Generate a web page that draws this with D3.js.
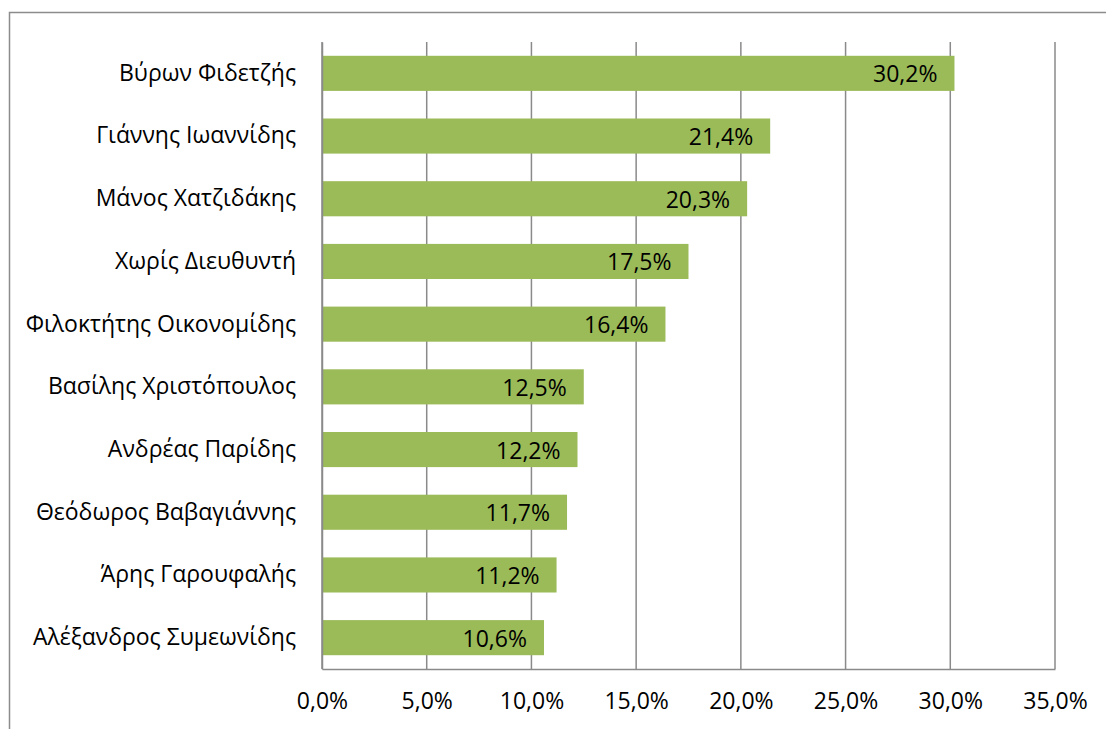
<!DOCTYPE html>
<html>
<head>
<meta charset="utf-8">
<script src="https://cdn.jsdelivr.net/npm/d3@7"></script>
<style>
  html, body { margin: 0; padding: 0; background: #fff; }
  svg { display: block; }
  text { font-family: "Open Sans", "Noto Sans", sans-serif; fill: #000; }
</style>
</head>
<body>
<svg id="chart" width="1106" height="729"></svg>
<script>
// Categories (top to bottom) and their shares in percent
const names = [
  "Βύρων Φιδετζής",
  "Γιάννης Ιωαννίδης",
  "Μάνος Χατζιδάκης",
  "Χωρίς Διευθυντή",
  "Φιλοκτήτης Οικονομίδης",
  "Βασίλης Χριστόπουλος",
  "Ανδρέας Παρίδης",
  "Θεόδωρος Βαβαγιάννης",
  "Άρης Γαρουφαλής",
  "Αλέξανδρος Συμεωνίδης"
];
const shares = [30.2, 21.4, 20.3, 17.5, 16.4, 12.5, 12.2, 11.7, 11.2, 10.6];
const xTicks = [0, 5, 10, 15, 20, 25, 30, 35];

const svg = d3.select("#chart");
const W = 1106, H = 729;
const plot = { left: 322, right: 1055, top: 42, bottom: 669 };
const fontSize = 23;

const fmt = v => v.toFixed(1).replace(".", ",") + "%";

// Outer chart frame (extends past the window on the right and bottom)
svg.append("rect")
  .attr("x", 9.5).attr("y", 12.5)
  .attr("width", W + 20).attr("height", H + 20)
  .attr("fill", "#fff")
  .attr("stroke", "#8c8c8c").attr("stroke-width", 1.5);

const x = d3.scaleLinear().domain([0, 35]).range([plot.left, plot.right]);
const y = d3.scaleBand().domain(names).range([plot.top, plot.bottom]).paddingInner(0.44).paddingOuter(0.22);

// Vertical gridlines
svg.append("g")
  .selectAll("line")
  .data(xTicks)
  .join("line")
  .attr("x1", d => x(d)).attr("x2", d => x(d))
  .attr("y1", plot.top).attr("y2", plot.bottom)
  .attr("stroke", "#8a8a8a").attr("stroke-width", 1.5);

// Bars
const rows = names.map((n, i) => ({ name: n, value: shares[i] }));
svg.append("g")
  .selectAll("rect")
  .data(rows)
  .join("rect")
  .attr("x", x(0))
  .attr("y", d => y(d.name))
  .attr("width", d => x(d.value) - x(0))
  .attr("height", y.bandwidth())
  .attr("fill", "#9bbb59");

// Value labels, inside end of each bar
svg.append("g")
  .selectAll("text")
  .data(rows)
  .join("text")
  .attr("x", d => x(d.value) - 17)
  .attr("y", d => y(d.name) + y.bandwidth() / 2)
  .attr("text-anchor", "end")
  .attr("dominant-baseline", "central")
  .attr("font-size", fontSize)
  .text(d => fmt(d.value));

// Category axis (left)
const yAxis = svg.append("g")
  .attr("transform", `translate(${plot.left},0)`)
  .call(d3.axisLeft(y).tickSize(0).tickPadding(26));
yAxis.select(".domain").attr("stroke", "#8a8a8a").attr("stroke-width", 1.5);
yAxis.selectAll("text")
  .attr("font-size", fontSize)
  .attr("font-family", "\"Open Sans\", \"Noto Sans\", sans-serif")
  .attr("fill", "#000");

// Value axis (bottom)
const xAxis = svg.append("g")
  .attr("transform", `translate(0,${plot.bottom})`)
  .call(d3.axisBottom(x).tickValues(xTicks).tickFormat(fmt).tickSize(0).tickPadding(24));
xAxis.select(".domain").attr("stroke", "#8a8a8a").attr("stroke-width", 1.5);
xAxis.selectAll("text")
  .attr("font-size", fontSize)
  .attr("font-family", "\"Open Sans\", \"Noto Sans\", sans-serif")
  .attr("fill", "#000");
</script>
</body>
</html>
